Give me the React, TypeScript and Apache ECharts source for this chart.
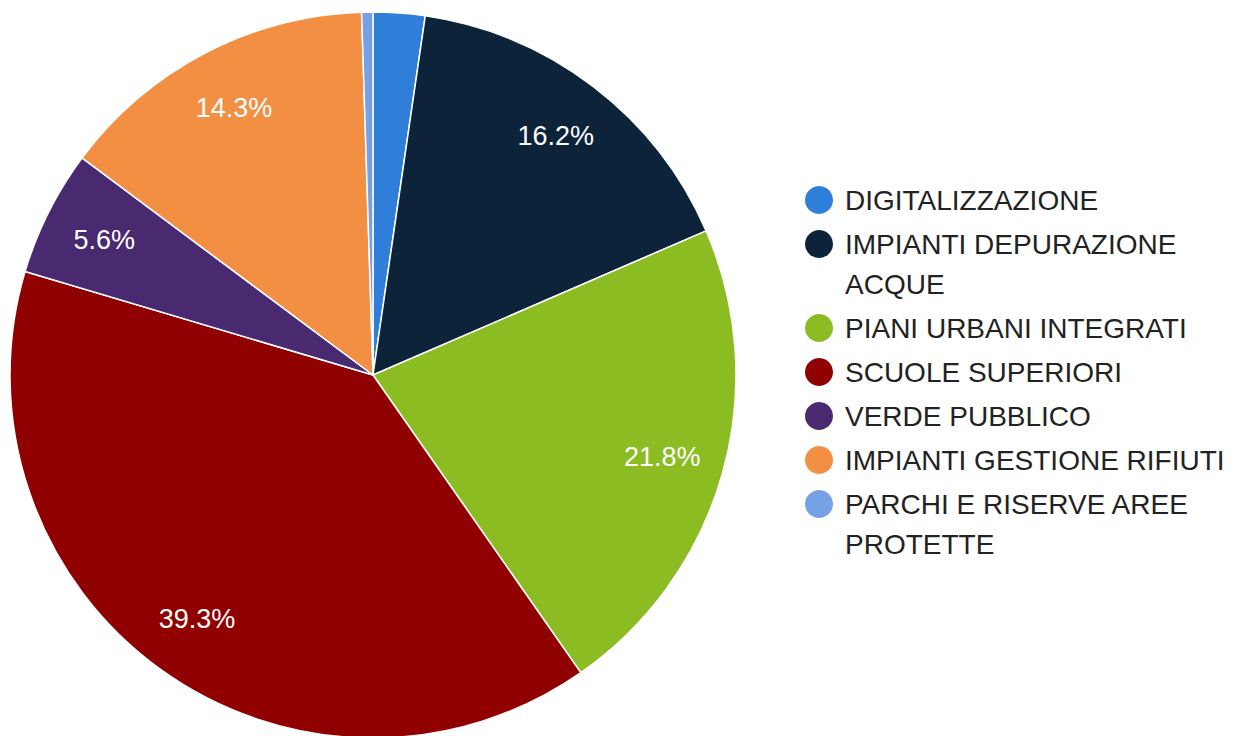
import React, { useEffect, useRef } from "react";
import * as echarts from "echarts";

const categories = [
  "DIGITALIZZAZIONE",
  "IMPIANTI DEPURAZIONE ACQUE",
  "PIANI URBANI INTEGRATI",
  "SCUOLE SUPERIORI",
  "VERDE PUBBLICO",
  "IMPIANTI GESTIONE RIFIUTI",
  "PARCHI E RISERVE AREE PROTETTE",
];
const shares = [2.3, 16.2, 21.8, 39.3, 5.6, 14.3, 0.5];
const colors = ["#2f7ed8", "#0d233a", "#8bbc21", "#910000", "#492970", "#f28f43", "#77a1e5"];

const FONT = "Liberation Sans, Arial, Helvetica, sans-serif";
const LEGEND_SIZE = 28;

function wrapText(text: string, maxWidth: number): string[] {
  const ctx = document.createElement("canvas").getContext("2d");
  if (!ctx) return [text];
  ctx.font = `${LEGEND_SIZE}px ${FONT}`;
  const words = text.split(" ");
  const lines: string[] = [];
  let cur = "";
  for (const w of words) {
    const t = cur ? cur + " " + w : w;
    if (cur && ctx.measureText(t).width > maxWidth) {
      lines.push(cur);
      cur = w;
    } else cur = t;
  }
  if (cur) lines.push(cur);
  return lines;
}

export default function App() {
  const ref = useRef<HTMLDivElement>(null);
  useEffect(() => {
    if (!ref.current) return;
    const chart = echarts.init(ref.current, undefined, { renderer: "svg" });
    const data = categories.map((name, i) => ({ name, value: shares[i], itemStyle: { color: colors[i] } }));

    const cx = 373;
    const cy = 375;
    const R = 363;

    const graphics: any[] = [];
    let y = 200;
    categories.forEach((name, i) => {
      const lines = wrapText(name, 392);
      graphics.push({
        type: "circle",
        shape: { cx: 819, cy: y, r: 14 },
        style: { fill: colors[i] },
      });
      graphics.push({
        type: "text",
        x: 845,
        y: y - 20,
        style: {
          text: lines.join("\n"),
          fontSize: LEGEND_SIZE,
          fontFamily: FONT,
          fill: "#222222",
          lineHeight: 40,
          verticalAlign: "top",
          textVerticalAlign: "top",
          align: "left",
        },
      });
      y += 44 + (lines.length - 1) * 40;
    });

    chart.setOption({
      animation: false,
      backgroundColor: "#ffffff",
      series: [
        {
          type: "pie",
          center: [cx, cy],
          radius: [0, R],
          startAngle: 90,
          clockwise: true,
          percentPrecision: 1,
          label: { show: false },
          labelLine: { show: false },
          itemStyle: { borderColor: "#ffffff", borderWidth: 1.5 },
          emphasis: { disabled: true },
          data,
        },
        {
          type: "pie",
          center: [cx, cy],
          radius: [R * 0.64, R],
          startAngle: 90,
          clockwise: true,
          silent: true,
          percentPrecision: 1,
          itemStyle: { color: "rgba(0,0,0,0)", borderWidth: 0 },
          label: {
            show: true,
            position: "inside",
            color: "#ffffff",
            fontSize: 27,
            fontFamily: FONT,
            formatter: (p: any) => (p.percent < 3 ? "" : `${p.percent.toFixed(1)}%`),
          },
          labelLine: { show: false },
          emphasis: { disabled: true },
          data: categories.map((name, i) => ({ name, value: shares[i] })),
        },
      ],
      graphic: graphics,
    });
    return () => chart.dispose();
  }, []);
  return (
    <div
      ref={ref}
      style={{ position: "fixed", left: 0, top: 0, width: 1244, height: 736 }}
    />
  );
}
